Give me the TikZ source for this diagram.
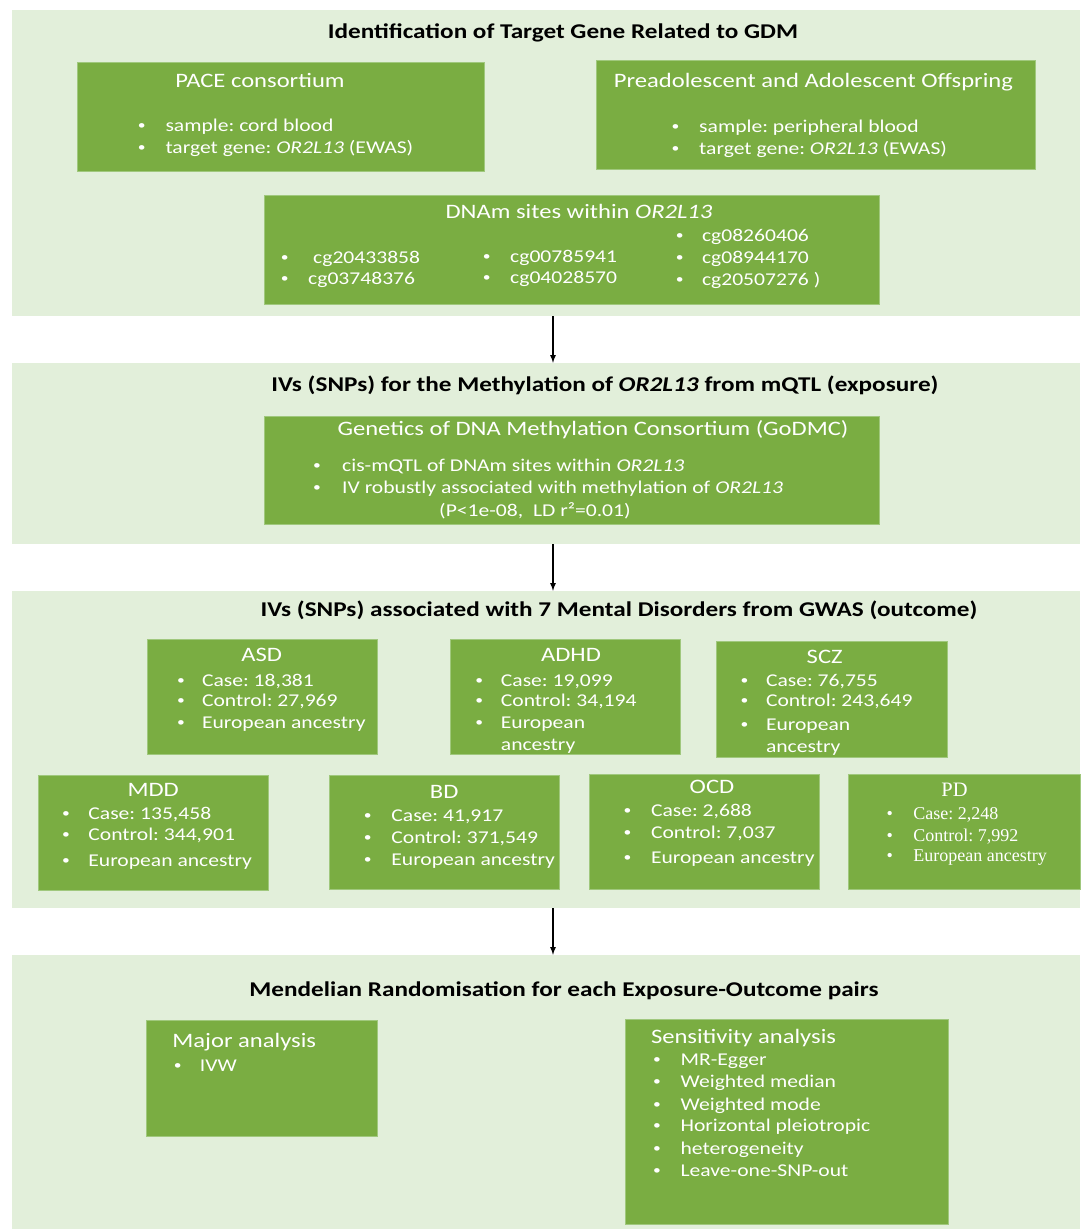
\documentclass[tikz,border=0pt]{standalone}
\usepackage{fontspec}
\setmainfont{Carlito}[FakeStretch=1.2]
\newfontfamily\pdserif{Liberation Serif}
\usepackage{xcolor}
\usepackage{tikz}
\usetikzlibrary{calc}
\usetikzlibrary{fit}

\definecolor{panelgreen}{RGB}{226,239,218}
\definecolor{boxgreen}{RGB}{122,173,66}
\definecolor{boxedge}{RGB}{160,200,125}

\newcommand\dotb{\raisebox{1.8pt}{\fontsize{13}{13}\selectfont\textbullet}}
% bullets: [style]{name}{bullet x}{text x}{y/text,...}
\newcommand\itemsat[5][]{%
	\foreach \yy/\itm [count=\i] in {#5} {%
		\node[btxt,#1] (#2d\i) at (#3,\yy) {\dotb};
		\node[btxt,#1] (#2\i) at (#4,\yy) {\itm};
	}}

\begin{document}
\frenchspacing
\begin{tikzpicture}[x=1pt,y=-1pt,
		panel/.style={fill=panelgreen,inner sep=0pt},
		gbox/.style={fill=boxgreen,draw=boxedge,line width=0.8pt,inner sep=0pt},
		ttl/.style={font=\bfseries\fontsize{21}{25}\selectfont,anchor=base,inner sep=0pt},
		hd/.style={text=white,font=\fontsize{20.5}{24}\selectfont,anchor=base,inner sep=0pt},
		btxt/.style={text=white,font=\fontsize{18}{22}\selectfont,anchor=base west,inner sep=0pt},
		serif/.style={font=\pdserif\fontsize{18}{22}\selectfont\let\dotb\textbullet},
		arr/.style={-latex,line width=1.6pt}]
		\useasboundingbox (0,0) rectangle (1080,1229);
		
		\node[panel,fit={(12,10) (1080,316)}] (p1) {};
		\node[panel,fit={(12,363) (1080,544)}] (p2) {};
		\node[panel,fit={(12,591) (1080,908)}] (p3) {};
		\node[panel,fit={(12,955) (1080,1229)}] (p4) {};
		\draw[arr] ([xshift=7pt]p1.south) -- ([xshift=7pt]p2.north);
		\draw[arr] ([xshift=7pt]p2.south) -- ([xshift=7pt]p3.north);
		\draw[arr] ([xshift=7pt]p3.south) -- ([xshift=7pt]p4.north);
		
		\node[ttl] (t1) at (563,38.3) {Identification of Target Gene Related to GDM};
		\node[gbox,fit={(77,62) (484,171)}] (pace) {};
		\node[gbox,fit={(596,60) (1035,169)}] (pread) {};
		\node[gbox,fit={(264,195) (879.5,304)}] (dnam) {};
		\node[hd] (pacehd) at (260,87.3) {PACE consortium};
		\node[hd] (preadhd) at (813.4,87.3) {Preadolescent and Adolescent Offspring};
		\node[hd] (dnamhd) at (579,218) {DNAm sites within \textit{OR2L13}};
		\itemsat{pace}{137.7}{165.3}{131/{sample: cord blood}, 153.3/{target gene: \textit{OR2L13} (EWAS)}}
		\itemsat{pread}{671.5}{699}{132.7/{sample: peripheral blood}, 154.3/{target gene: \textit{OR2L13} (EWAS)}}
		\itemsat{dnama}{280.6}{313}{263/cg20433858}
		\itemsat{dnamb}{280.6}{308}{284.5/cg03748376}
		\itemsat{dnamc}{482.7}{510}{262/cg00785941, 283.3/cg04028570}
		\itemsat{dnamd}{675.7}{701.8}{241.7/cg08260406, 263.3/cg08944170, 285/{cg20507276 )}}
		
		\node[ttl] (t2) at (605,391) {IVs (SNPs) for the Methylation of \textit{OR2L13} from mQTL (exposure)};
		\node[gbox,fit={(264,416) (879,524)}] (godmc) {};
		\node[hd] (godmchd) at (593,435) {Genetics of DNA Methylation Consortium (GoDMC)};
		\itemsat{godmc}{313}{342}{471.7/{cis-mQTL of DNAm sites within \textit{OR2L13}}, 493/{IV robustly associated with methylation of \textit{OR2L13}}}
		\node[btxt] (godmcp) at (439,516.7) {(P<1e-08,\ \ LD r²=0.01)};
		
		\node[ttl] (t3) at (619,616.7) {IVs (SNPs) associated with 7 Mental Disorders from GWAS (outcome)};
		\node[gbox,fit={(147,639) (377.5,754)}] (asd) {};
		\node[gbox,fit={(450.5,639) (680.5,754)}] (adhd) {};
		\node[gbox,fit={(716,641) (947,757)}] (scz) {};
		\node[gbox,fit={(38,775) (268.5,890.5)}] (mdd) {};
		\node[gbox,fit={(329,775) (559,889)}] (bd) {};
		\node[gbox,fit={(589.5,774) (819.5,889)}] (ocd) {};
		\node[gbox,fit={(848.5,774) (1080,889)}] (pd) {};
		\node[hd] (asdhd) at (261.6,661.7) {ASD};
		\node[hd] (adhdhd) at (571,661.7) {ADHD};
		\node[hd] (sczhd) at (824.7,663.3) {SCZ};
		\node[hd] (mddhd) at (153.2,796) {MDD};
		\node[hd] (bdhd) at (444.2,798.3) {BD};
		\node[hd] (ocdhd) at (712,793.3) {OCD};
		\node[hd,font=\pdserif\fontsize{20.5}{24}\selectfont] (pdhd) at (954.5,796) {PD};
		\itemsat{asd}{177}{201.8}{686/{Case: 18,381}, 706.7/{Control: 27,969}, 728.3/{European ancestry}}
		\itemsat{adhd}{475.2}{500.7}{686/{Case: 19,099}, 706.7/{Control: 34,194}, 728.3/European}
		\node[btxt] (adhdx) at (500.7,750) {ancestry};
		\itemsat{scz}{740.4}{765.8}{686/{Case: 76,755}, 706.7/{Control: 243,649}, 730/European}
		\node[btxt] (sczx) at (765.8,752) {ancestry};
		\itemsat{mdd}{62}{88.2}{819.3/{Case: 135,458}, 840.7/{Control: 344,901}, 866/{European ancestry}}
		\itemsat{bd}{363.6}{391.2}{821.7/{Case: 41,917}, 843.3/{Control: 371,549}, 865/{European ancestry}}
		\itemsat{ocd}{623.3}{650.8}{816.7/{Case: 2,688}, 838.3/{Control: 7,037}, 863.3/{European ancestry}}
		\itemsat[serif]{pd}{886.4}{913.2}{819.3/{Case: 2,248}, 841.7/{Control: 7,992}, 861.7/{European ancestry}}
		
		\node[ttl] (t4) at (564,996.5) {Mendelian Randomisation for each Exposure-Outcome pairs};
		\node[gbox,fit={(146,1020) (377,1136)}] (major) {};
		\node[gbox,fit={(625,1019) (948,1224)}] (sens) {};
		\node[hd,anchor=base west] (majorhd) at (172.2,1047) {Major analysis};
		\node[hd,anchor=base west] (senshd) at (650.8,1043) {Sensitivity analysis};
		\itemsat{major}{173.6}{199.7}{1071.7/IVW}
		\itemsat{sens}{652.9}{680.4}{1065.7/MR-Egger, 1087.7/{Weighted median}, 1110/{Weighted mode}, 1131.7/{Horizontal pleiotropic}, 1154.3/heterogeneity, 1176.7/Leave-one-SNP-out}
	\end{tikzpicture}
\end{document}
